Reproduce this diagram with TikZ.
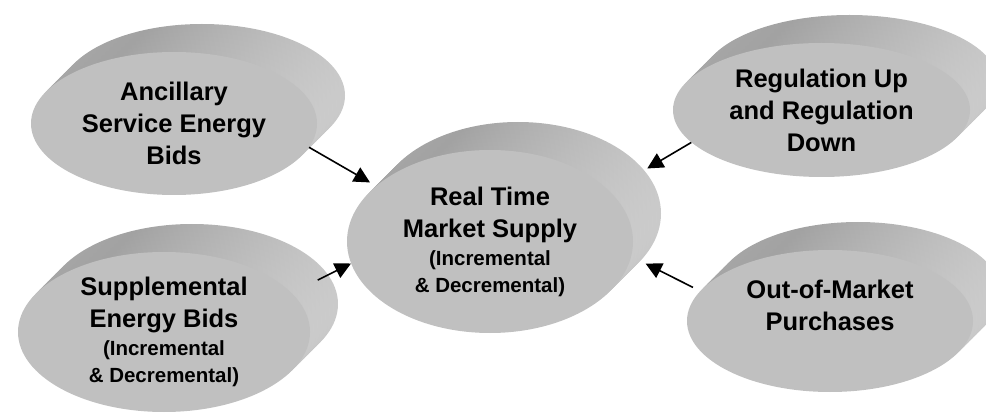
\documentclass[tikz,border=0pt]{standalone}
\usepackage{fontspec}
\setmainfont{Liberation Sans}
\usepackage{tikz}
\usetikzlibrary{arrows.meta,shapes.geometric}
\definecolor{discface}{RGB}{192,192,192}
\definecolor{sidemid}{RGB}{176,176,176}
\definecolor{sidedark}{RGB}{162,162,162}
\definecolor{sidelight}{RGB}{232,232,232}
% shading of the raised rim behind each disc
\pgfdeclarehorizontalshading{discside}{100bp}{color(0bp)=(sidemid); color(40bp)=(sidedark); color(100bp)=(sidelight)}
\newcommand{\subline}[1]{{\fontsize{20.5}{27}\selectfont #1}}

\begin{document}
\begin{tikzpicture}[x=1pt, y=-1pt,
  side/.style={preaction={shade, shading=discside,
               transform canvas={xshift=#1pt, yshift=#1pt}}},
  disc/.style={ellipse, fill=discface, inner sep=0pt, align=center,
               font=\bfseries\fontsize{25.5}{32}\selectfont,
               side=28, side=24, side=20, side=16, side=12, side=8, side=4},
  arrow/.style={-{Triangle[length=16pt,width=16pt]}, line width=1.6pt}
]
\useasboundingbox (0,0) rectangle (986,414);

\node[disc, minimum width=286pt, minimum height=143pt] (anc) at (174,123.5)
  {Ancillary\\Service Energy\\Bids};
\node[disc, minimum width=286pt, minimum height=183pt] (rts) at (490,241.5)
  {Real Time\\Market Supply\\[-4pt]\subline{(Incremental}\\[-5pt]\subline{\& Decremental)}};
\node[disc, minimum width=292pt, minimum height=160pt] (sup) at (164,332)
  {Supplemental\\Energy Bids\\[-4pt]\subline{(Incremental}\\[-5pt]\subline{\& Decremental)}};
\node[disc, minimum width=297pt, minimum height=134pt] (reg) at (821.5,110)
  {Regulation Up\\and Regulation\\Down};
\node[disc, minimum width=286pt, minimum height=142pt] (oom) at (830,321)
  {Out-of-Market\\Purchases\\\mbox{}};

\draw[arrow, shorten >=7pt] (anc.-10) -- (rts.154);
\draw[arrow, shorten <=29pt] (sup.17) -- (rts.189);
\draw[arrow, shorten >=44pt] (reg.194) -- (rts.23);
\draw[arrow, shorten <=8pt, shorten >=16pt] (oom.167) -- (rts.-6);
\end{tikzpicture}
\end{document}
